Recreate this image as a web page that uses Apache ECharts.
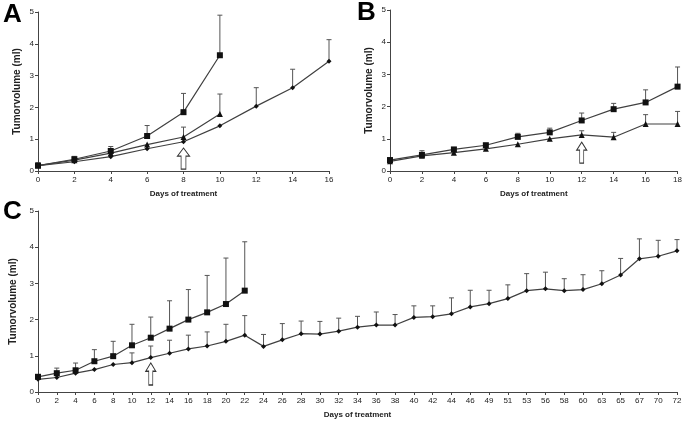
<!DOCTYPE html>
<html><head><meta charset="utf-8">
<script src="https://cdn.jsdelivr.net/npm/echarts@6/dist/echarts.min.js"></script>
<style>html,body{margin:0;padding:0;background:#fff}#c{width:685px;height:423px}</style>
</head><body><div id="c"></div>
<script>
// ---- Panel A ----
const daysA = [0, 2, 4, 6, 8, 10, 12, 14, 16];
const aSquare = [0.17, 0.37, 0.63, 1.1, 1.85, 3.64];
const aSquareErr = [0.26, 0.46, 0.77, 1.43, 2.44, 4.9];
const aTriangle = [0.17, 0.34, 0.56, 0.83, 1.07, 1.79];
const aTriangleErr = [null, null, null, null, 1.38, 2.42];
const aDiamond = [0.17, 0.29, 0.45, 0.70, 0.92, 1.42, 2.04, 2.62, 3.45];
const aDiamondErr = [null, null, null, null, null, null, 2.62, 3.2, 4.13];
const aArrowDay = 8, aArrowY = 0.39;
// ---- Panel B ----
const daysB = [0, 2, 4, 6, 8, 10, 12, 14, 16, 18];
const bSquare = [0.34, 0.5, 0.67, 0.8, 1.06, 1.2, 1.57, 1.92, 2.13, 2.62];
const bSquareErr = [0.4, 0.63, 0.72, 0.86, 1.17, 1.33, 1.8, 2.1, 2.52, 3.23];
const bTriangle = [0.3, 0.47, 0.57, 0.69, 0.83, 1.0, 1.12, 1.05, 1.46, 1.46];
const bTriangleErr = [null, null, null, null, null, null, 1.25, 1.2, 1.75, 1.85];
const bArrowDay = 12, bArrowY = 0.57;
// ---- Panel C ----
const daysC = ['0','2','4','6','8','10','12','14','16','18','20','22','24','26','28','30','32','34','36','38','40','42','44','46','49','51','53','56','58','60','63','65','67','70','72'];
const cSquare = [0.42, 0.52, 0.6, 0.85, 0.99, 1.29, 1.5, 1.75, 2.0, 2.2, 2.43, 2.8];
const cSquareErr = [0.47, 0.66, 0.8, 1.17, 1.4, 1.87, 2.07, 2.52, 2.83, 3.22, 3.7, 4.15];
const cDiamond = [0.35, 0.4, 0.52, 0.62, 0.76, 0.81, 0.95, 1.07, 1.19, 1.27, 1.4, 1.57, 1.26, 1.44, 1.61, 1.6, 1.68, 1.79, 1.85, 1.85, 2.06, 2.08, 2.16, 2.35, 2.44, 2.58, 2.8, 2.85, 2.8, 2.83, 2.99, 3.23, 3.68, 3.75, 3.9];
const cDiamondErr = [null, null, null, null, null, 1.08, 1.27, 1.43, 1.57, 1.66, 1.87, 2.11, 1.59, 1.89, 1.96, 1.95, 2.04, 2.09, 2.21, 2.14, 2.38, 2.38, 2.6, 2.81, 2.81, 2.96, 3.27, 3.31, 3.13, 3.24, 3.35, 3.69, 4.23, 4.19, 4.21];
const cArrowIdx = 6, cArrowY = 0.5;

const yTicks = [0, 1, 2, 3, 4, 5];
const xTitle = 'Days of treatment';
const yTitle = 'Tumorvolume (ml)';

const LINE = '#404040', ERR = '#555';
const FONT = 'Liberation Sans, Arial, sans-serif';
const ARROW = 'path://M5,0 L10,8 L7,8 L7,21 L3,21 L3,8 L0,8 Z';

function pairs(xs, ys) { return ys.map((v, i) => [xs[i], v]); }
function errPairs(xs, ys, tops) {
  const out = [];
  tops.forEach((t, i) => { if (t != null) out.push([xs[i], ys[i], t]); });
  return out;
}
function lineSeries(idx, data, symbol, size) {
  return { type: 'line', xAxisIndex: idx, yAxisIndex: idx, data, symbol, symbolSize: size,
    showSymbol: true, animation: false, z: 3,
    lineStyle: { color: LINE, width: 1.2 }, itemStyle: { color: '#111' } };
}
function errSeries(idx, data) {
  return { type: 'custom', xAxisIndex: idx, yAxisIndex: idx, data, z: 2, animation: false,
    renderItem(params, api) {
      const x = api.value(0), y = api.value(1), t = api.value(2);
      const p1 = api.coord([x, y]), p2 = api.coord([x, t]);
      const st = { stroke: ERR, lineWidth: 1 };
      return { type: 'group', children: [
        { type: 'line', shape: { x1: p1[0], y1: p1[1], x2: p2[0], y2: p2[1] }, style: st },
        { type: 'line', shape: { x1: p2[0] - 2.5, y1: p2[1], x2: p2[0] + 2.5, y2: p2[1] }, style: st }
      ]};
    } };
}
function arrowSeries(idx, coord, size) {
  return { type: 'scatter', xAxisIndex: idx, yAxisIndex: idx, data: [], silent: true, animation: false,
    markPoint: { symbol: ARROW, symbolSize: size, silent: true, animation: false,
      itemStyle: { color: '#fff', borderColor: '#333', borderWidth: 1 },
      label: { show: false }, data: [{ coord }] } };
}
function yAx(idx) {
  return { type: 'value', gridIndex: idx, min: yTicks[0], max: yTicks[yTicks.length - 1], interval: 1,
    name: yTitle, nameLocation: 'middle', nameGap: 16,
    nameTextStyle: { fontFamily: FONT, fontSize: 10, fontWeight: 'bold', color: '#222' },
    axisLine: { show: true, lineStyle: { color: '#444' } },
    axisTick: { show: true, length: 3, lineStyle: { color: '#444' } },
    axisLabel: { fontFamily: FONT, fontSize: 8, color: '#222', margin: 4 },
    splitLine: { show: false } };
}
function xVal(idx, max) {
  return { type: 'value', gridIndex: idx, min: 0, max, interval: 2,
    name: xTitle, nameLocation: 'middle', nameGap: 19,
    nameTextStyle: { fontFamily: FONT, fontSize: 8, fontWeight: 'bold', color: '#222' },
    axisLine: { lineStyle: { color: '#444' } },
    axisTick: { length: 3, lineStyle: { color: '#444' } },
    axisLabel: { fontFamily: FONT, fontSize: 8, color: '#222', margin: 5 },
    splitLine: { show: false } };
}

const option = {
  backgroundColor: '#fff',
  animation: false,
  grid: [
    { left: 38, top: 12, width: 291, height: 159 },
    { left: 390, top: 10, width: 288, height: 161 },
    { left: 38, top: 211, width: 639, height: 181 }
  ],
  xAxis: [
    xVal(0, 16),
    xVal(1, 18),
    { type: 'category', gridIndex: 2, data: daysC, boundaryGap: false,
      name: xTitle, nameLocation: 'middle', nameGap: 19,
      nameTextStyle: { fontFamily: FONT, fontSize: 8, fontWeight: 'bold', color: '#222' },
      axisLine: { lineStyle: { color: '#444' } },
      axisTick: { length: 3, interval: 0, lineStyle: { color: '#444' } },
      axisLabel: { interval: 0, fontFamily: FONT, fontSize: 8, color: '#222', margin: 5 },
      splitLine: { show: false } }
  ],
  yAxis: [yAx(0), yAx(1), yAx(2)],
  graphic: [
    { type: 'text', left: 3, top: 2, style: { text: 'A', font: 'bold 26px ' + FONT, fill: '#000' } },
    { type: 'text', left: 357, top: 0, style: { text: 'B', font: 'bold 26px ' + FONT, fill: '#000' } },
    { type: 'text', left: 3, top: 199, style: { text: 'C', font: 'bold 26px ' + FONT, fill: '#000' } }
  ],
  series: [
    errSeries(0, errPairs(daysA, aSquare, aSquareErr)),
    errSeries(0, errPairs(daysA, aTriangle, aTriangleErr)),
    errSeries(0, errPairs(daysA, aDiamond, aDiamondErr)),
    lineSeries(0, pairs(daysA, aSquare), 'rect', 6),
    lineSeries(0, pairs(daysA, aTriangle), 'triangle', 6),
    lineSeries(0, pairs(daysA, aDiamond), 'diamond', 5),
    arrowSeries(0, [aArrowDay, aArrowY], [12, 21]),

    errSeries(1, errPairs(daysB, bSquare, bSquareErr)),
    errSeries(1, errPairs(daysB, bTriangle, bTriangleErr)),
    lineSeries(1, pairs(daysB, bSquare), 'rect', 6),
    lineSeries(1, pairs(daysB, bTriangle), 'triangle', 6),
    arrowSeries(1, [bArrowDay, bArrowY], [10, 21]),

    errSeries(2, errPairs(daysC.map((d, i) => i), cSquare, cSquareErr)),
    errSeries(2, errPairs(daysC.map((d, i) => i), cDiamond, cDiamondErr)),
    lineSeries(2, cSquare, 'rect', 6),
    lineSeries(2, cDiamond, 'diamond', 5),
    arrowSeries(2, [cArrowIdx, cArrowY], [10, 22])
  ]
};
const chart = echarts.init(document.getElementById('c'), null, { renderer: 'canvas' });
chart.setOption(option);
</script></body></html>
